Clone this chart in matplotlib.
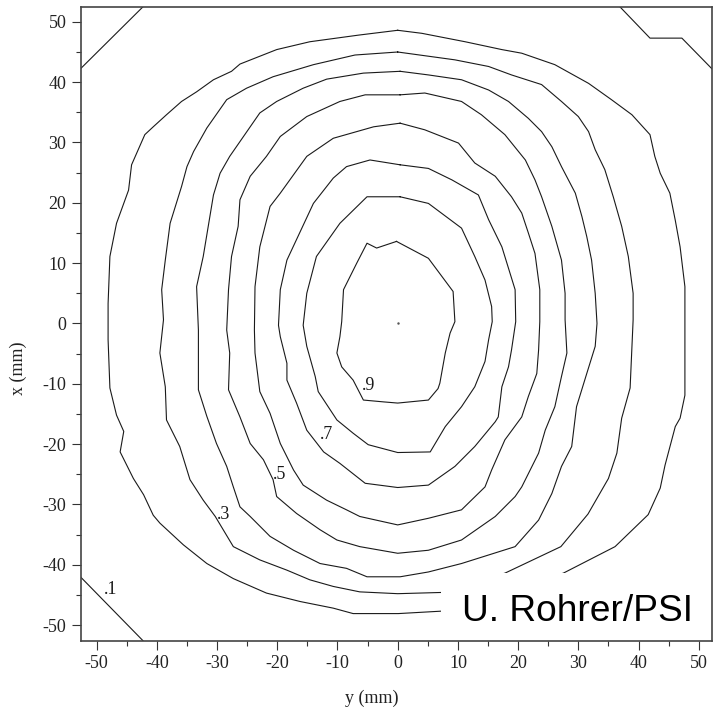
#beam_profile.py
#Contour map of a measured beam profile, y vs x in mm, levels 0.1 .. 0.9

import matplotlib
matplotlib.use("Agg")
from matplotlib import pyplot as plt
from matplotlib.patches import Rectangle

plt.rcParams["axes.unicode_minus"] = False

#Contour traces, points are (y, x) in mm
lvl_01_tl = [(-52.6, 42.3), (-42.3, 52.5)]
lvl_01_tr = [(36.9, 52.5), (41.9, 47.3), (47.2, 47.3), (52.4, 42.0)]
lvl_01_bl = [(-52.6, -42.1), (-42.3, -52.6)]

lvl_02 = [(0.0, 48.6), (-6.5, 47.8), (-14.6, 46.7), (-20.1, 45.4), (-26.2, 43.0),
          (-27.6, 41.8), (-30.6, 40.4), (-33.4, 38.4), (-35.9, 36.8), (-38.4, 34.6),
          (-40.6, 32.6), (-42.0, 31.3), (-44.2, 26.3), (-44.7, 22.1), (-46.7, 16.6),
          (-47.8, 11.1), (-48.1, 3.3), (-48.1, -2.7), (-47.8, -10.7), (-46.7, -15.2),
          (-45.5, -17.9), (-46.1, -21.3), (-43.9, -25.7), (-42.2, -28.4), (-40.6, -31.8),
          (-39.5, -33.1), (-35.6, -36.7), (-31.7, -39.8), (-27.3, -42.3), (-21.8, -44.7),
          (-16.2, -46.1), (-10.7, -47.2), (-7.4, -48.1), (0.1, -48.1), (7.2, -47.7),
          (27.5, -41.4), (36.1, -37.0), (41.6, -31.7), (43.6, -27.3), (44.4, -23.5),
          (46.1, -17.1), (46.9, -15.7), (47.7, -11.9), (47.7, -5.8), (47.7, 6.1),
          (46.9, 12.7), (46.1, 17.1), (45.2, 21.6), (43.6, 24.9), (42.7, 27.7),
          (41.9, 31.3), (38.9, 34.6), (35.5, 37.1), (31.7, 39.8), (26.1, 42.9),
          (20.6, 44.8), (17.3, 45.4), (11.2, 46.7), (4.0, 48.1), (0.0, 48.6)]

lvl_03 = [(0.0, 45.0), (-7.1, 44.5), (-14.0, 42.9), (-20.7, 40.9), (-25.1, 39.0),
          (-28.4, 37.1), (-31.7, 32.4), (-33.9, 28.5), (-35.0, 26.0), (-35.9, 22.7),
          (-37.8, 16.6), (-38.6, 10.5), (-39.2, 5.6), (-38.9, 0.6), (-39.5, -4.9),
          (-38.6, -10.5), (-38.4, -16.0), (-36.2, -20.4), (-34.5, -25.9), (-32.3, -29.3),
          (-30.3, -32.0), (-27.3, -37.0), (-22.9, -39.2), (-18.4, -40.9), (-14.6, -42.5),
          (-10.7, -43.6), (-6.3, -44.5), (0.0, -44.8), (7.2, -44.6),
          (17.8, -41.4), (27.1, -37.0), (31.6, -31.6), (35.0, -25.7), (36.4, -21.5),
          (37.2, -15.7), (38.6, -10.7), (39.1, 0.6), (39.1, 5.0), (38.3, 11.1),
          (37.2, 16.1), (35.8, 21.0), (34.4, 25.5), (32.8, 28.8), (31.7, 31.8),
          (30.0, 34.3), (27.2, 36.8), (23.9, 39.6), (18.9, 41.2), (15.1, 42.6),
          (9.5, 43.7), (0.0, 45.0)]

lvl_04 = [(0.4, 41.8), (-5.7, 41.5), (-11.8, 40.5), (-15.7, 39.0), (-20.1, 36.8),
          (-22.9, 34.9), (-25.4, 31.3), (-27.9, 27.7), (-29.5, 24.9), (-30.6, 21.3),
          (-31.2, 17.7), (-32.3, 11.1), (-33.4, 6.1), (-33.1, -1.1), (-33.1, -4.9),
          (-33.1, -11.0), (-31.7, -15.4), (-30.1, -19.9), (-28.4, -23.7), (-27.3, -27.1),
          (-26.2, -30.4), (-24.5, -32.0), (-21.2, -35.3), (-17.3, -37.6), (-12.9, -39.8),
          (-8.5, -40.6), (-5.1, -42.0), (0.4, -42.0), (5.1, -41.2), (10.6, -39.8),
          (19.5, -37.0), (23.4, -32.6), (25.6, -28.2), (27.2, -23.7), (28.9, -20.4),
          (29.7, -13.8), (31.4, -8.3), (32.8, -3.8), (33.1, 0.0), (32.8, 5.0),
          (32.2, 10.5), (31.4, 14.4), (30.6, 17.7), (29.5, 21.6), (27.2, 26.0),
          (25.6, 29.3), (23.9, 31.8), (21.7, 34.0), (18.4, 36.8), (15.1, 38.7),
          (10.6, 40.4), (5.1, 41.2), (0.4, 41.8)]

lvl_05 = [(0.4, 37.9), (-5.4, 37.9), (-9.6, 36.8), (-15.1, 34.3), (-19.5, 31.0),
          (-21.8, 27.7), (-24.5, 24.4), (-26.2, 20.5), (-26.5, 16.1), (-27.6, 11.1),
          (-28.1, 5.6), (-28.4, -1.1), (-27.9, -4.9), (-28.1, -11.0), (-26.2, -15.5),
          (-24.5, -19.9), (-22.3, -22.6), (-20.7, -25.9), (-20.1, -28.7), (-16.8, -31.5),
          (-12.9, -34.2), (-10.1, -35.9), (-6.3, -37.0), (0.0, -38.1), (5.1, -37.6),
          (10.6, -35.9), (16.2, -32.0), (19.5, -28.7), (20.6, -27.1), (23.4, -21.5),
          (24.5, -17.7), (26.1, -13.8), (27.2, -8.8), (28.1, -4.9), (27.8, 0.6),
          (27.8, 5.0), (27.2, 10.5), (25.6, 16.1), (23.9, 21.0), (22.8, 23.8),
          (21.2, 27.1), (17.8, 31.3), (13.9, 34.6), (10.6, 36.8), (4.5, 38.2),
          (0.4, 37.9)]

lvl_06 = [(0.4, 33.2), (-4.0, 32.6), (-10.7, 30.7), (-15.1, 27.7), (-19.5, 21.6),
          (-21.2, 19.4), (-22.9, 12.7), (-23.7, 6.1), (-23.8, -1.1), (-23.7, -4.9),
          (-22.9, -11.3), (-21.2, -14.9), (-19.5, -19.9), (-17.3, -24.3), (-15.7, -26.8),
          (-11.8, -29.3), (-8.5, -30.9), (-6.3, -32.0), (0.0, -33.4), (5.1, -32.3),
          (10.6, -30.9), (14.5, -27.1), (15.6, -24.3), (17.8, -19.3), (20.6, -15.5),
          (21.7, -12.1), (23.1, -8.3), (23.4, -4.4), (23.6, 0.3), (23.6, 5.6),
          (22.8, 11.6), (21.7, 15.0), (20.6, 18.3), (18.9, 21.0), (16.2, 24.4),
          (12.8, 26.6), (10.1, 29.9), (4.5, 32.1), (0.4, 33.2)]

lvl_07 = [(0.4, 26.3), (-4.6, 27.1), (-8.5, 26.0), (-10.7, 24.1), (-14.0, 19.9),
          (-18.4, 10.5), (-19.5, 5.6), (-19.8, -0.3), (-19.5, -2.2), (-18.4, -6.6),
          (-18.4, -9.4), (-16.8, -13.2), (-15.1, -17.7), (-12.3, -21.3), (-9.6, -23.2),
          (-5.4, -26.5), (0.0, -27.2), (5.1, -26.8), (9.5, -23.7), (12.8, -20.4),
          (16.2, -16.3), (16.7, -15.5), (17.3, -10.5), (18.4, -7.2), (18.9, -4.4),
          (19.6, 0.3), (19.5, 5.6), (17.3, 12.7), (15.1, 17.2), (13.4, 21.3),
          (9.0, 23.8), (5.1, 25.7), (0.4, 26.3)]

lvl_08 = [(0.4, 21.0), (-5.1, 21.0), (-9.6, 16.6), (-13.5, 11.1), (-15.1, 5.0),
          (-15.7, -0.3), (-15.1, -3.8), (-13.7, -8.8), (-13.2, -11.3), (-10.1, -16.0),
          (-7.4, -18.2), (-4.9, -20.1), (0.0, -21.4), (5.4, -21.3), (7.9, -17.1),
          (10.6, -13.8), (12.8, -10.5), (14.5, -6.3), (15.1, -2.7), (15.7, 0.3),
          (15.6, 2.8), (14.5, 7.2), (12.8, 11.1), (10.6, 15.8), (5.1, 19.9),
          (0.4, 21.0)]

lvl_09 = [(-0.2, 13.6), (-3.5, 12.5), (-5.1, 13.3), (-6.8, 10.0), (-9.0, 5.6),
          (-9.3, 0.3), (-9.6, -2.2), (-10.1, -4.9), (-9.3, -7.2), (-7.4, -9.4),
          (-5.7, -12.7), (-2.4, -13.0), (0.0, -13.2), (5.1, -12.7), (6.7, -10.8),
          (7.0, -9.9), (7.9, -4.9), (8.7, -1.6), (9.5, 0.3), (9.2, 5.3),
          (5.1, 10.8), (-0.2, 13.6)]

#Level labels, (text, y, x) at the left end of the text baseline
level_labels = [(".1", -48.8, -44.9), (".3", -30.1, -32.5), (".5", -20.7, -25.8),
                (".7", -12.9, -19.2), (".9", -6.0, -11.1)]

ticks = list(range(-50, 51, 10))

traces = [lvl_01_tl, lvl_01_tr, lvl_01_bl, lvl_02, lvl_03, lvl_04,
          lvl_05, lvl_06, lvl_07, lvl_08, lvl_09]

#Plot data
fig = plt.figure(dpi=100, figsize=(7.13, 7.12))
ax = fig.add_axes([0.1136, 0.1001, 0.8850, 0.8904])

for trace in traces:
    ys = [p[0] for p in trace]
    xs = [p[1] for p in trace]
    ax.plot(ys, xs, color="#1a1a1a", linewidth=0.8, zorder=2)

ax.plot([0], [0], marker=".", markersize=1.5, color="#555555", zorder=2)

for text, y, x in level_labels:
    ax.text(y, x, text, fontsize=13, family="Liberation Serif",
            ha="left", va="baseline", color="#1a1a1a", zorder=3)

#Credit box hides the contours beneath it
ax.add_patch(Rectangle((7.2, -52.6), 46.0, 11.2, facecolor="white",
                       edgecolor="none", zorder=2.3))
ax.text(10.6, -49.3, "U. Rohrer/PSI", fontsize=26.7, family="Liberation Sans",
        ha="left", va="baseline", color="black", zorder=4)

#Format plot
ax.set_xlim(-52.6, 52.2)
ax.set_ylim(-52.6, 52.5)
ax.set_xticks(ticks)
ax.set_yticks(ticks)
ax.set_xticks(range(-45, 50, 10), minor=True)
ax.set_yticks(range(-45, 50, 10), minor=True)
ax.tick_params(axis="both", which="major", direction="out", length=6.5,
               width=0.8, color="#333333", labelsize=13, pad=4)
ax.tick_params(axis="both", which="minor", direction="out", length=3.5,
               width=0.8, color="#333333")
for lab in ax.get_xticklabels() + ax.get_yticklabels():
    lab.set_family("Liberation Serif")
    lab.set_color("#222222")

for spine in ax.spines.values():
    spine.set_linewidth(1.2)
    spine.set_color("#444444")
    spine.set_zorder(5)

ax.set_xlabel("y (mm)", fontsize=13, family="Liberation Serif", color="#222222")
ax.set_ylabel("x (mm)", fontsize=13, family="Liberation Serif", color="#222222")
ax.xaxis.set_label_coords(0.461, -0.078)
ax.yaxis.set_label_coords(-0.0856, 0.43)

plt.savefig("out.png", dpi=100)
